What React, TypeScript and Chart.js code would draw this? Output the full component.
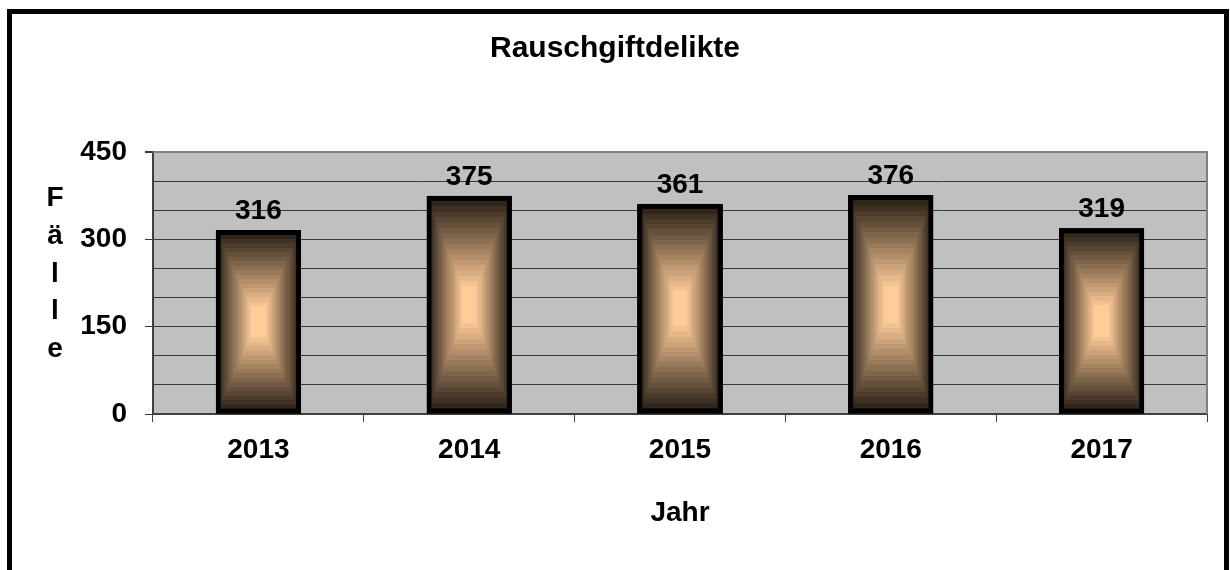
import React, { useEffect, useRef } from "react";
import { Chart, registerables } from "chart.js";

Chart.register(...registerables);

const categories = ["2013", "2014", "2015", "2016", "2017"];
const values = [316, 375, 361, 376, 319];
const yTickLabels = [0, 150, 300, 450];
const yGridValues = [0, 50, 100, 150, 200, 250, 300, 350, 400, 450];
const chartTitle = "Rauschgiftdelikte";
const xTitle = "Jahr";
const yTitleLetters = ["F", "ä", "l", "l", "e"];

const FONT = "'Liberation Sans', Arial, Helvetica, sans-serif";

const frame = {
  id: "frame",
  beforeDraw(chart: any) {
    const { ctx, chartArea } = chart;
    ctx.save();
    ctx.fillStyle = "#ffffff";
    ctx.fillRect(0, 0, chart.width, chart.height);
    ctx.strokeStyle = "#000000";
    ctx.lineWidth = 5;
    ctx.strokeRect(9.5, 11.5, 1217, 700);
    ctx.fillStyle = "#c0c0c0";
    ctx.fillRect(chartArea.left, chartArea.top, chartArea.right - chartArea.left, chartArea.bottom - chartArea.top);
    ctx.restore();
  },
  beforeDatasetsDraw(chart: any) {
    const { ctx, chartArea } = chart;
    ctx.save();
    ctx.strokeStyle = "#808080";
    ctx.lineWidth = 2;
    ctx.beginPath();
    ctx.moveTo(chartArea.left, chartArea.top);
    ctx.lineTo(chartArea.right, chartArea.top);
    ctx.lineTo(chartArea.right, chartArea.bottom);
    ctx.stroke();
    const meta = chart.getDatasetMeta(0);
    const dark = [36, 28, 20];
    const light = [255, 204, 153];
    const N = 18;
    meta.data.forEach((el: any) => {
      const p = el.getProps(["x", "y", "base", "width"], true);
      const left = p.x - p.width / 2;
      const right = p.x + p.width / 2;
      const top = Math.min(p.y, p.base);
      const bottom = Math.max(p.y, p.base);
      const cx = (left + right) / 2;
      const cy = (top + bottom) / 2;
      const hw = (right - left) / 2;
      const hh = (bottom - top) / 2;
      for (let k = 0; k < N; k++) {
        const s = 1 - (k / N) * 0.88;
        const t = k / (N - 1);
        const c = dark.map((d, i) => Math.round(d + (light[i] - d) * t));
        ctx.fillStyle = `rgb(${c[0]},${c[1]},${c[2]})`;
        const x0 = Math.round(cx - hw * s);
        const x1 = Math.round(cx + hw * s);
        const y0 = Math.round(cy - hh * s);
        const y1 = Math.round(cy + hh * s);
        ctx.fillRect(x0, y0, x1 - x0, y1 - y0);
      }
    });
    ctx.restore();
  },
  afterDatasetsDraw(chart: any) {
    const { ctx, chartArea } = chart;
    const meta = chart.getDatasetMeta(0);
    ctx.save();
    ctx.fillStyle = "#000000";
    ctx.font = `bold 28px ${FONT}`;
    ctx.textAlign = "center";
    ctx.textBaseline = "alphabetic";
    meta.data.forEach((el: any, i: number) => {
      ctx.fillText(String(values[i]), el.x, el.y - 11);
    });
    yTitleLetters.forEach((ch, i) => {
      ctx.fillText(ch, 55, chartArea.top + 54 + i * 37.8);
    });
    ctx.restore();
  },
};

export default function App() {
  const ref = useRef<HTMLCanvasElement | null>(null);
  useEffect(() => {
    if (!ref.current) return;
    const chart = new Chart(ref.current, {
      type: "bar",
      data: {
        labels: categories,
        datasets: [
          {
            data: values,
            backgroundColor: "rgba(0,0,0,0)",
            borderColor: "#000000",
            borderWidth: 5,
            borderSkipped: false,
            categoryPercentage: 1,
            barPercentage: 0.405,
          },
        ],
      },
      options: {
        responsive: false,
        animation: false,
        layout: { padding: { left: 23, right: 23, top: 0, bottom: 0 } },
        plugins: {
          legend: { display: false },
          tooltip: { enabled: false },
          title: {
            display: true,
            text: chartTitle,
            color: "#000000",
            font: { family: FONT, size: 30, weight: "bold" },
            padding: { top: 31, bottom: 85 },
          },
        },
        scales: {
          x: {
            afterFit: (s: any) => {
              s.height = 156;
            },
            grid: {
              offset: true,
              drawOnChartArea: false,
              drawTicks: true,
              tickLength: 8,
              color: "#404040",
              tickColor: "#404040",
            },
            border: { color: "#404040", width: 2 },
            ticks: {
              color: "#000000",
              padding: 11,
              font: { family: FONT, size: 28, weight: "bold" },
            },
            title: {
              display: true,
              text: xTitle,
              color: "#000000",
              font: { family: FONT, size: 28, weight: "bold" },
              padding: { top: 0, bottom: 40 },
            },
          },
          y: {
            min: 0,
            max: 450,
            afterFit: (s: any) => {
              s.width = 130;
            },
            afterBuildTicks: (s: any) => {
              s.ticks = yGridValues.map((v) => ({ value: v }));
            },
            grid: {
              color: (c: any) => (c.tick && c.tick.value === 450 ? "#808080" : "#383838"),
              lineWidth: (c: any) => (c.tick && c.tick.value === 450 ? 2 : 1),
              tickColor: (c: any) =>
                c.tick && yTickLabels.includes(c.tick.value) ? "#383838" : "rgba(0,0,0,0)",
              tickLength: 8,
            },
            border: { color: "#404040", width: 2 },
            ticks: {
              autoSkip: false,
              color: "#000000",
              padding: 18,
              font: { family: FONT, size: 28, weight: "bold" },
              callback: (v: any) => (yTickLabels.includes(Number(v)) ? String(v) : ""),
            },
          },
        },
      },
      plugins: [frame],
    });
    return () => chart.destroy();
  }, []);
  return (
    <div style={{ position: "fixed", left: 0, top: 0, width: 1230, height: 570 }}>
      <canvas ref={ref} width={1230} height={570} style={{ display: "block" }} />
    </div>
  );
}
